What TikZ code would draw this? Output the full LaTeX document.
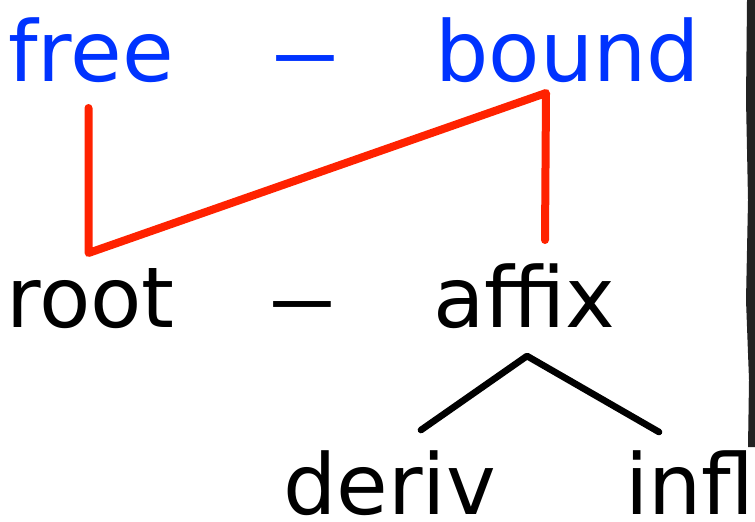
\documentclass[tikz,border=0pt]{standalone}
\usepackage{fontspec}
\setmainfont{DejaVu Sans}
\definecolor{wordblue}{RGB}{0,51,255}
\definecolor{linkred}{RGB}{255,34,0}
\definecolor{edgegray}{RGB}{34,34,34}
\tikzset{
  word/.style={anchor=base west,inner sep=0pt,font=\fontsize{63}{70}\selectfont},
  dashmark/.style={anchor=base,inner sep=0pt,font=\fontsize{63}{70}\selectfont},
  redlink/.style={draw=linkred,line width=6pt,line cap=round,line join=round},
  branch/.style={draw=black,line width=5pt,line cap=round,line join=round}
}
\begin{document}
\begin{tikzpicture}[x=0.75pt,y=0.75pt,yscale=-1,xscale=1]
\useasboundingbox (0,0) rectangle (755,521);

%Shape: torn edge on the right
\fill [edgegray] (747,0) -- (755,0) -- (755,447) -- (748,447) -- (749,380) -- (746,300) -- (748,200) -- (746,100) -- cycle ;

% Text Node
\draw (8,81) node [word,color=wordblue] (free) {free};
% Text Node
\draw (305,81) node [dashmark,color=wordblue] (topdash) {\scalebox{0.76}[1]{—}};
% Text Node
\draw (435,81) node [word,color=wordblue] (bound) {bound};
% Text Node
\draw (6,327) node [word] (root) {root};
% Text Node
\draw (302,327) node [dashmark] (middash) {\scalebox{0.76}[1]{—}};
% Text Node
\draw (433,327) node [word] (affix) {affix};
% Text Node
\draw (283,514) node [word] (deriv) {deriv};
% Text Node
\draw (625,514) node [word] (infl) {infl};

%Coordinates for the links
\coordinate (free-foot) at (88.5,108) ;
\coordinate (root-head) at (88.5,253) ;
\coordinate (bound-foot) at (546,93) ;
\coordinate (affix-head) at (545,240) ;
\coordinate (affix-foot) at (527,356) ;
\coordinate (deriv-head) at (421,430) ;
\coordinate (infl-head) at (659,432) ;

%Straight Lines
\draw [redlink] (free-foot) -- (root-head) -- (bound-foot) -- (affix-head) ;
%Straight Lines
\draw [branch] (deriv-head) -- (affix-foot) -- (infl-head) ;

\end{tikzpicture}
\end{document}
